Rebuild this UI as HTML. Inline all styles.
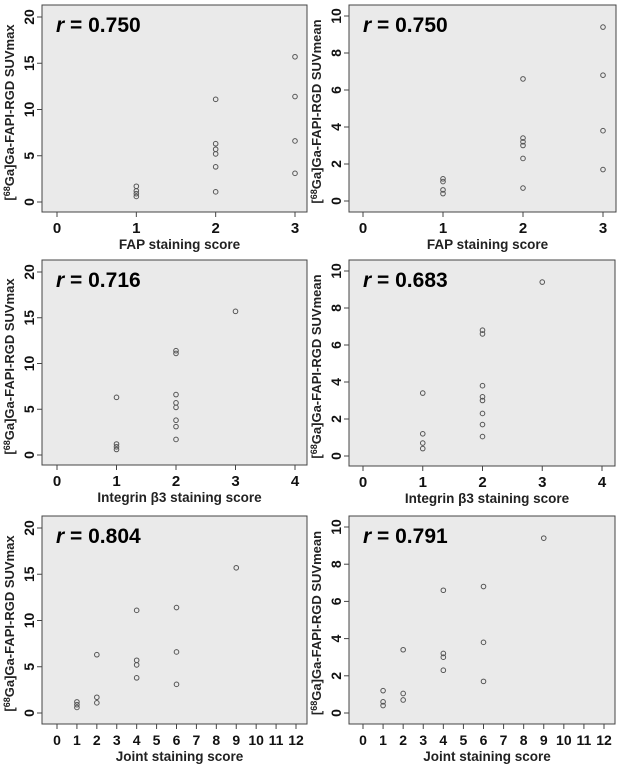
<!DOCTYPE html>
<html><head><meta charset="utf-8"><style>
body{margin:0;background:#fff;width:624px;height:771px;overflow:hidden}
svg{display:block;font-family:"Liberation Sans",Arial,sans-serif;font-weight:bold}
</style></head><body>
<svg id="fig" width="624" height="771" viewBox="0 0 624 771"></svg>
<script>
// ---- data ----
const fapX = [1,1,1,1,2,2,2,2,2,2,3,3,3,3];
const fapMax = [0.6,0.9,1.2,1.7,11.1,6.3,5.7,5.2,3.8,1.1,15.7,11.4,6.6,3.1];
const fapMean = [1.2,1.05,0.6,0.4,6.6,3.4,3.2,3.0,2.3,0.7,9.4,6.8,3.8,1.7];
const intMaxX = [1,1,1,1,2,2,2,2,2,2,2,2,3];
const intMax = [6.3,1.2,0.9,0.6,11.4,11.1,6.6,5.7,5.2,3.8,3.1,1.7,15.7];
const intMeanX = [1,1,1,1,2,2,2,2,2,2,2,2,3];
const intMean = [3.4,1.2,0.7,0.4,6.8,6.6,3.8,3.2,3.0,2.3,1.7,1.05,9.4];
const jointX = [1,1,1,2,2,2,4,4,4,4,6,6,6,9];
const jointMax = [1.2,0.9,0.6,6.3,1.7,1.1,11.1,5.7,5.2,3.8,11.4,6.6,3.1,15.7];
const jointMean = [1.2,0.6,0.4,3.4,1.05,0.7,6.6,3.2,3.0,2.3,6.8,3.8,1.7,9.4];
const rValues = ["0.750","0.750","0.716","0.683","0.804","0.791"];
const xTitles = ["FAP staining score","FAP staining score","Integrin β3 staining score","Integrin β3 staining score","Joint staining score","Joint staining score"];
const yTicksMax = [0,5,10,15,20];
const yTicksMean = [0,2,4,6,8,10];

const NS="http://www.w3.org/2000/svg";
const svg=document.getElementById('fig');
function mk(tag,attrs,parent){const e=document.createElementNS(NS,tag);for(const k in attrs)e.setAttribute(k,attrs[k]);(parent||svg).appendChild(e);return e;}

const panels=[
 {xs:fapX,ys:fapMax,box:[42,5,307,212],x0:57,x1:295,xmax:3,y0:202,y1:17,ymax:20,yt:yTicksMax,yl:"SUVmax"},
 {xs:fapX,ys:fapMean,box:[349,5,616,212],x0:363,x1:603,xmax:3,y0:201,y1:16,ymax:10,yt:yTicksMean,yl:"SUVmean"},
 {xs:intMaxX,ys:intMax,box:[42,260,307,465],x0:57,x1:295,xmax:4,y0:455,y1:272,ymax:20,yt:yTicksMax,yl:"SUVmax"},
 {xs:intMeanX,ys:intMean,box:[349,260,615,466],x0:363,x1:602,xmax:4,y0:456,y1:271,ymax:10,yt:yTicksMean,yl:"SUVmean"},
 {xs:jointX,ys:jointMax,box:[42,516,307,724],x0:57,x1:296,xmax:12,y0:713,y1:528,ymax:20,yt:yTicksMax,yl:"SUVmax"},
 {xs:jointX,ys:jointMean,box:[349,516,615,724],x0:363,x1:604,xmax:12,y0:713,y1:527,ymax:10,yt:yTicksMean,yl:"SUVmean"}
];

panels.forEach((p,i)=>{
 const g=mk('g',{});
 
 
 const [bx0,by0,bx1,by1]=p.box;
 const sx=v=>p.x0+(p.x1-p.x0)*v/p.xmax;
 const sy=v=>p.y0+(p.y1-p.y0)*v/p.ymax;
 const r=mk('rect',{x:bx0,y:by0,width:bx1-bx0,height:by1-by0,fill:'#eaeaea',stroke:'#444','stroke-width':1},g);
 
 
 p.yt.forEach(v=>{
  const y=sy(v);
  mk('line',{x1:bx0-5,x2:bx0,y1:y,y2:y,stroke:'#444'},g);
  const t=mk('text',{x:0,y:0,transform:`translate(${bx0-8},${y}) rotate(-90)`,'text-anchor':'middle','font-size':14,fill:'#111'},g);
  t.textContent=v;
  
  
 });
 for(let v=0;v<=p.xmax;v++){
  const x=sx(v);
  mk('line',{x1:x,x2:x,y1:by1,y2:by1+5,stroke:'#444'},g);
  const t=mk('text',{x:x,y:by1+21,'text-anchor':'middle','font-size':p.xmax>4?14:15,fill:'#111'},g);
  t.textContent=v;
  
  
 }
 p.xs.forEach((xv,j)=>{
  const c=mk('circle',{cx:sx(xv),cy:sy(p.ys[j]),r:2.3,fill:'none',stroke:'#555','stroke-width':1},g);
  
  
 });
 const rt=mk('text',{x:bx0+14,y:by0+27,'font-size':21,fill:'#000'},g);
 rt.innerHTML='<tspan font-style="italic">r</tspan> = '+rValues[i];
 
 
 const xt=mk('text',{x:(bx0+bx1)/2+5,y:by1+37,'text-anchor':'middle','font-size':13.5,fill:'#222'},g);
 xt.textContent=xTitles[i];
 
 
 const yc=(p.y0+p.y1)/2+3;
 const yt=mk('text',{x:0,y:0,transform:`translate(${bx0-28},${yc}) rotate(-90)`,'text-anchor':'middle','font-size':13,fill:'#222'},g);
 yt.innerHTML='[<tspan font-size="9" dy="-4">68</tspan><tspan dy="4">Ga]Ga-FAPI-RGD '+p.yl+'</tspan>';
 
 
});
</script>
</body></html>
